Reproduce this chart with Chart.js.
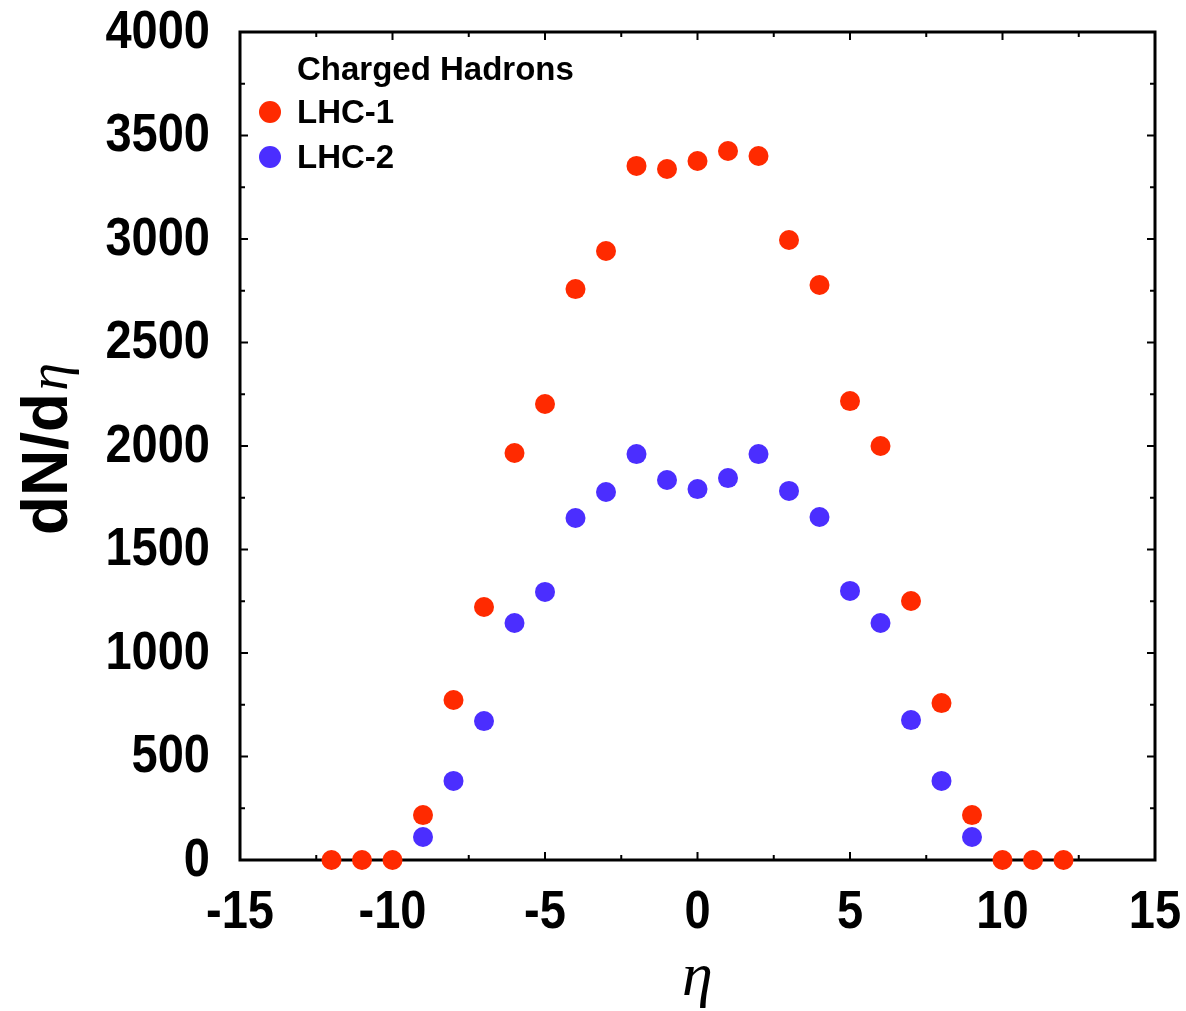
<!DOCTYPE html>
<html>
<head>
<meta charset="utf-8">
<script src="https://cdn.jsdelivr.net/npm/chart.js@4/dist/chart.umd.min.js"></script>
<style>
  html, body { margin: 0; padding: 0; background: #fff; }
  #wrap { width: 1186px; height: 1011px; }
</style>
</head>
<body>
<div id="wrap"><canvas id="plot" width="1186" height="1011"></canvas></div>
<script>
// pseudorapidity bins and dN/deta for charged hadrons
let eta1 = [-12, -11, -10, -9, -8, -7, -6, -5, -4, -3, -2, -1, 0, 1, 2, 3, 4, 5, 6, 7, 8, 9, 10, 11, 12]
let lhc1 = [0, 0, 0, 217, 773, 1222, 1966, 2203, 2758, 2942, 3353, 3338, 3377, 3425, 3401, 2995, 2778, 2217, 2000, 1251, 758, 217, 0, 0, 0]

let eta2 = [-9, -8, -7, -6, -5, -4, -3, -2, -1, 0, 1, 2, 3, 4, 5, 6, 7, 8, 9]
let lhc2 = [111, 382, 671, 1145, 1295, 1652, 1778, 1961, 1836, 1792, 1845, 1961, 1783, 1657, 1300, 1145, 676, 382, 111]

let xTicks = [-15, -10, -5, 0, 5, 10, 15]
let yTicks = [0, 500, 1000, 1500, 2000, 2500, 3000, 3500, 4000]

let legendTitle = 'Charged Hadrons'
let red = '#ff2a00'
let blue = '#4b2eff'

function pts(xs, ys) {
    return xs.map((x, i) => ({ x: x, y: ys[i] }))
}

// frame and inward ticks go under the points
const frame = {
    id: 'frame',
    beforeDatasetsDraw(chart) {
        const ctx = chart.ctx
        const a = chart.chartArea
        const sx = chart.scales.x
        const sy = chart.scales.y
        ctx.save()
        ctx.strokeStyle = '#000'

        // ticks on all four sides, minor ones halfway
        ctx.lineWidth = 2
        ctx.beginPath()
        xTicks.forEach((v, i) => {
            let px = sx.getPixelForValue(v)
            ctx.moveTo(px, a.bottom); ctx.lineTo(px, a.bottom - 8)
            ctx.moveTo(px, a.top); ctx.lineTo(px, a.top + 8)
            if (i < xTicks.length - 1) {
                let m = sx.getPixelForValue((v + xTicks[i + 1]) / 2)
                ctx.moveTo(m, a.bottom); ctx.lineTo(m, a.bottom - 5)
                ctx.moveTo(m, a.top); ctx.lineTo(m, a.top + 5)
            }
        })
        yTicks.forEach((v, i) => {
            let py = sy.getPixelForValue(v)
            ctx.moveTo(a.left, py); ctx.lineTo(a.left + 8, py)
            ctx.moveTo(a.right, py); ctx.lineTo(a.right - 8, py)
            if (i < yTicks.length - 1) {
                let m = sy.getPixelForValue((v + yTicks[i + 1]) / 2)
                ctx.moveTo(a.left, m); ctx.lineTo(a.left + 5, m)
                ctx.moveTo(a.right, m); ctx.lineTo(a.right - 5, m)
            }
        })
        ctx.stroke()

        ctx.lineWidth = 3
        ctx.strokeRect(a.left, a.top, a.right - a.left, a.bottom - a.top)
        ctx.restore()
    }
}

// labels, titles and legend
const texts = {
    id: 'texts',
    afterDraw(chart) {
        const ctx = chart.ctx
        const a = chart.chartArea
        const sx = chart.scales.x
        const sy = chart.scales.y
        ctx.save()
        ctx.fillStyle = '#000'

        // tick labels, slightly tall bold sans
        ctx.font = 'bold 47px "Liberation Sans", Arial, sans-serif'
        ctx.textBaseline = 'middle'
        ctx.textAlign = 'right'
        yTicks.forEach(v => {
            let py = sy.getPixelForValue(v)
            ctx.save()
            ctx.translate(210, py + 1)
            ctx.scale(1, 1.15)
            ctx.fillText(String(v), 0, 0)
            ctx.restore()
        })
        ctx.textAlign = 'center'
        xTicks.forEach(v => {
            let px = sx.getPixelForValue(v)
            ctx.save()
            ctx.translate(px, a.bottom + 53)
            ctx.scale(1, 1.15)
            ctx.fillText(String(v), 0, 0)
            ctx.restore()
        })

        // x title
        ctx.font = 'italic 62px "Liberation Serif", "DejaVu Serif", serif'
        ctx.textBaseline = 'alphabetic'
        ctx.fillText('\u03b7', (a.left + a.right) / 2, 995)

        // y title: bold dN/d + italic eta, rotated
        ctx.save()
        ctx.translate(67, 535)
        ctx.rotate(-Math.PI / 2)
        ctx.textAlign = 'left'
        ctx.font = 'bold 64px "Liberation Sans", Arial, sans-serif'
        ctx.fillText('dN/d', 0, 0)
        let w = ctx.measureText('dN/d').width
        ctx.font = 'italic 56px "Liberation Serif", "DejaVu Serif", serif'
        ctx.fillText('\u03b7', w + 2, 0)
        ctx.restore()

        // legend inside the frame
        ctx.textAlign = 'left'
        ctx.font = 'bold 33px "Liberation Sans", Arial, sans-serif'
        ctx.fillText(legendTitle, 297, 80)
        chart.data.datasets.forEach((ds, i) => {
            let cy = 112 + i * 45
            ctx.fillStyle = ds.backgroundColor
            ctx.beginPath()
            ctx.arc(270, cy, 11, 0, Math.PI * 2)
            ctx.fill()
            ctx.fillStyle = '#000'
            ctx.fillText(ds.label, 297, cy + 11)
        })
        ctx.restore()
    }
}

var ctx = document.getElementById('plot').getContext('2d')

var chart = new Chart(ctx, {
    type: 'scatter',
    data: {
        datasets: [{
            label: 'LHC-1',
            data: pts(eta1, lhc1),
            backgroundColor: red,
            borderWidth: 0,
            pointRadius: 10,
            clip: false
        }, {
            label: 'LHC-2',
            data: pts(eta2, lhc2),
            backgroundColor: blue,
            borderWidth: 0,
            pointRadius: 10,
            clip: false
        }]
    },
    options: {
        responsive: false,
        animation: false,
        layout: { padding: { left: 240, right: 31, top: 32, bottom: 151 } },
        plugins: { legend: { display: false }, tooltip: { enabled: false } },
        scales: {
            x: { type: 'linear', min: -15, max: 15, display: false },
            y: { type: 'linear', min: 0, max: 4000, display: false }
        }
    },
    plugins: [frame, texts]
})
</script>
</body>
</html>
